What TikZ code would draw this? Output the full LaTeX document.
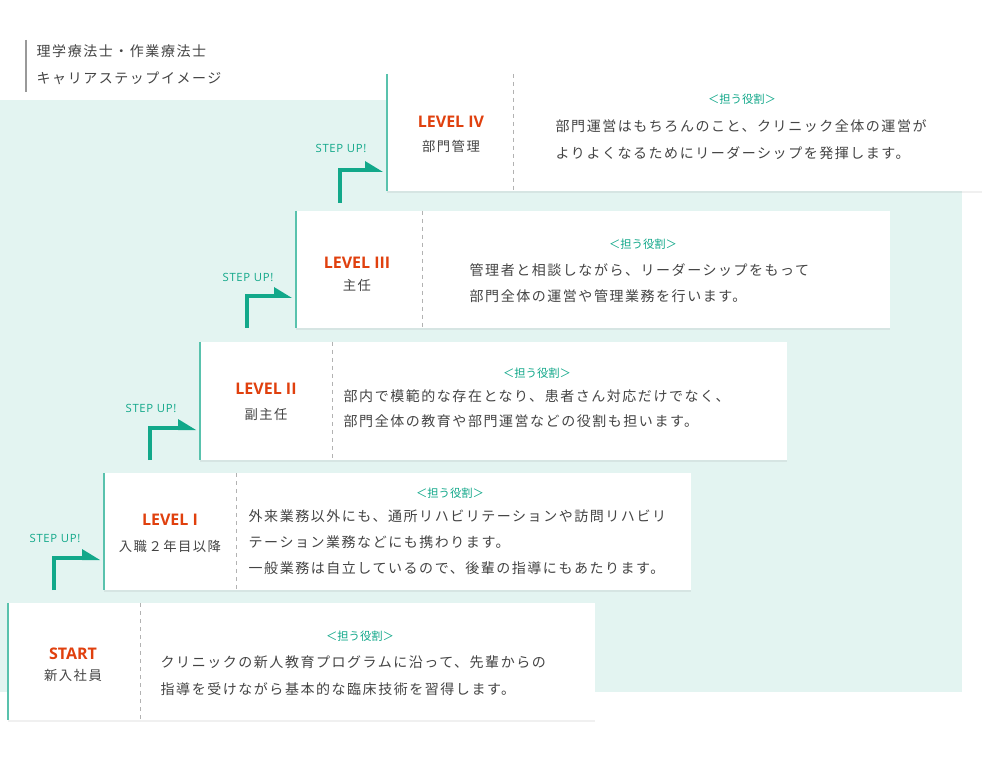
\documentclass[tikz,border=0pt]{standalone}
\usepackage{fontspec}
\setmainfont{Noto Sans CJK JP}
\newfontfamily\spfont[LetterSpace=11]{Noto Sans CJK JP}
\newfontfamily\lvfont{Open Sans}
\newfontfamily\stfont[LetterSpace=6]{Open Sans}
\usetikzlibrary{shadows}
\definecolor{bgteal}{HTML}{E3F4F1}
\definecolor{teal}{HTML}{12A88A}
\definecolor{lvred}{HTML}{E0400E}
\definecolor{txt}{HTML}{444444}
\begin{document}
\begin{tikzpicture}[x=0.75pt,y=-0.75pt,
  lvl/.style={font=\lvfont\bfseries\fontsize{12}{14}\selectfont,text=lvred},
  sub/.style={font=\spfont\fontsize{10}{12}\selectfont,text=txt},
  role/.style={font=\fontsize{8.5}{10}\selectfont,text=teal},
  body/.style={font=\spfont\fontsize{10.5}{13}\selectfont,text=txt,anchor=west},
  stp/.style={font=\stfont\fontsize{8.5}{10}\selectfont,text=teal},
  arr/.style={draw=teal,line width=3.2pt}]
\useasboundingbox (0,0) rectangle (1000,777);
\fill[bgteal] (0,100) rectangle (962,692);
\draw[gray!80,line width=0.8pt] (26,40) -- (26,92);
\node[anchor=west,font=\spfont\fontsize{10.5}{13}\selectfont,text=txt] (t1) at (32,51) {理学療法士・作業療法士};
\node[anchor=west,font=\spfont\fontsize{10.5}{13}\selectfont,text=txt] (t2) at (32,78) {キャリアステップイメージ};
% cards
\foreach \xa/\xd/\xb/\ya/\yb in {8/140/595/603/720, 104/236/691/473/590, 200/332/787/342/460, 296/422/890/211/328, 387/513/982/74/191}{
  \fill[white,drop shadow={shadow xshift=0pt,shadow yshift=-1.5pt,opacity=0.12}] (\xa,\ya) rectangle (\xb,\yb);
  \draw[teal!70,line width=1pt] (\xa,\ya) -- (\xa,\yb);
  \draw[gray!60,dashed,line width=0.6pt] (\xd,\ya) -- (\xd,\yb);
}
% START
\node[lvl] (l0) at (73,654) {START};
\node[sub] (s0) at (73,675) {新入社員};
\node[role] (r0) at (360,636) {＜担う役割＞};
\node[body] (b0a) at (156,662) {クリニックの新人教育プログラムに沿って、先輩からの};
\node[body] (b0b) at (156,689) {指導を受けながら基本的な臨床技術を習得します。};
% I
\node[lvl] (l1) at (170,520) {LEVEL I};
\node[sub] (s1) at (170,546) {入職２年目以降};
\node[role] (r1) at (450,493) {＜担う役割＞};
\node[body] (b1a) at (244,516) {外来業務以外にも、通所リハビリテーションや訪問リハビリ};
\node[body] (b1b) at (244,542) {テーション業務などにも携わります。};
\node[body] (b1c) at (244,568) {一般業務は自立しているので、後輩の指導にもあたります。};
% II
\node[lvl] (l2) at (266,389) {LEVEL II};
\node[sub] (s2) at (266,414) {副主任};
\node[role] (r2) at (537,373) {＜担う役割＞};
\node[body] (b2a) at (339,396) {部内で模範的な存在となり、患者さん対応だけでなく、};
\node[body] (b2b) at (339,421) {部門全体の教育や部門運営などの役割も担います。};
% III
\node[lvl] (l3) at (357,263) {LEVEL III};
\node[sub] (s3) at (357,285) {主任};
\node[role] (r3) at (643,244) {＜担う役割＞};
\node[body] (b3a) at (465,270) {管理者と相談しながら、リーダーシップをもって};
\node[body] (b3b) at (465,296) {部門全体の運営や管理業務を行います。};
% IV
\node[lvl] (l4) at (451,122) {LEVEL IV};
\node[sub] (s4) at (451,146) {部門管理};
\node[role] (r4) at (742,99) {＜担う役割＞};
\node[body] (b4a) at (551,126) {部門運営はもちろんのこと、クリニック全体の運営が};
\node[body] (b4b) at (551,153) {よりよくなるためにリーダーシップを発揮します。};
% arrows
\foreach \x/\yb/\yt/\xe/\ly in {54/590/558/100/538, 150/460/428/196/408, 247/328/296/292/277, 340/203/170/383/148}{
  \draw[arr] (\x,\yb) -- (\x,\yt) -- (\xe-16,\yt);
  \fill[teal] (\xe-18,\yt+2) -- (\xe-18,\yt-9) -- (\xe,\yt+2) -- cycle;
  \node[stp] at (\x+1,\ly) {STEP UP!};
}
\end{tikzpicture}
\end{document}
